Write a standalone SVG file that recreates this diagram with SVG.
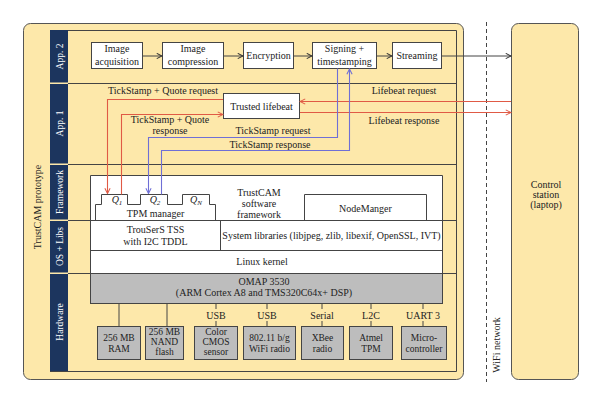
<svg xmlns="http://www.w3.org/2000/svg" width="600" height="401" viewBox="0 0 600 401">
<defs>
<style>
text{font-family:"Liberation Serif","Times New Roman",serif;font-size:10px;fill:#222;text-anchor:middle}
.sm{font-size:9.5px}
.lbl{fill:#fff;font-size:9.5px}
.box{fill:#fff;stroke:#444;stroke-width:1}
.gbox{fill:#bdbdbd;stroke:#444;stroke-width:1}
.ln{fill:none;stroke:#444;stroke-width:1}
.red{fill:none;stroke:#e05a45;stroke-width:1.1}
.blue{fill:none;stroke:#6f6fd6;stroke-width:1.1}
.navy{fill:#1c355e}
</style>
<marker id="ak" viewBox="0 0 8 8" refX="7" refY="4" markerWidth="7" markerHeight="7" orient="auto" markerUnits="userSpaceOnUse"><path d="M1,1 L7,4 L1,7" fill="none" stroke="#333" stroke-width="1.2"/></marker>
<marker id="ar" viewBox="0 0 8 8" refX="7" refY="4" markerWidth="7" markerHeight="7" orient="auto" markerUnits="userSpaceOnUse"><path d="M1,1 L7,4 L1,7" fill="none" stroke="#e05a45" stroke-width="1.2"/></marker>
<marker id="ab" viewBox="0 0 8 8" refX="7" refY="4" markerWidth="7" markerHeight="7" orient="auto" markerUnits="userSpaceOnUse"><path d="M1,1 L7,4 L1,7" fill="none" stroke="#6f6fd6" stroke-width="1.2"/></marker>
</defs>
<rect width="600" height="401" fill="#fff"/>
<!-- prototype container -->
<g id="prototype">
<rect x="23.5" y="23.5" width="440" height="356" rx="7" fill="#fde8aa" stroke="#555" stroke-width="1"/>
<text transform="translate(41,207) rotate(-90)" font-size="10.5">TrustCAM prototype</text>
<path class="ln" d="M50,30.5 H456.5 V371.5 H50"/>
</g>
<!-- layer bars -->
<g id="layers">
<rect class="navy" x="50" y="30" width="18" height="52.5"/>
<rect class="navy" x="50" y="84" width="18" height="79.5"/>
<rect class="navy" x="50" y="165" width="18" height="54.5"/>
<rect class="navy" x="50" y="221" width="18" height="51.5"/>
<rect class="navy" x="50" y="274" width="18" height="97"/>
<text class="lbl" transform="translate(62.5,56.5) rotate(-90)">App. 2</text>
<text class="lbl" transform="translate(62.5,123.5) rotate(-90)">App. 1</text>
<text class="lbl" transform="translate(62.5,192) rotate(-90)">Framework</text>
<text class="lbl" transform="translate(62.5,246.5) rotate(-90)">OS + Libs</text>
<text class="lbl" transform="translate(62.5,322) rotate(-90)">Hardware</text>
<path class="ln" d="M68,83.5 H456 M68,164.5 H456 M68,220.5 H456 M68,273.5 H456"/>
</g>
<!-- App 2 -->
<g id="img-acq"><rect class="box" x="91.5" y="42.5" width="51" height="26"/><text x="117" y="52">Image</text><text x="117" y="65">acquisition</text></g>
<g id="img-comp"><rect class="box" x="162.5" y="42.5" width="61" height="26"/><text x="193" y="52">Image</text><text x="193" y="65">compression</text></g>
<g id="encryption"><rect class="box" x="243.5" y="42.5" width="50" height="26"/><text x="268.5" y="59">Encryption</text></g>
<g id="signing"><rect class="box" x="312.5" y="42.5" width="64" height="26"/><text x="344.5" y="52">Signing +</text><text x="344.5" y="65">timestamping</text></g>
<g id="streaming"><rect class="box" x="392.5" y="42.5" width="49" height="26"/><text x="417" y="59">Streaming</text></g>
<!-- App 1 -->
<g id="lifebeat"><rect class="box" x="223.5" y="93.5" width="76" height="25"/><text x="261.5" y="109.5">Trusted lifebeat</text></g>
<!-- Framework -->
<g id="framework">
<path class="box" d="M90.5,220.5 V175.5 H442.5 V220.5"/>
<text x="259" y="196">TrustCAM</text>
<text x="259" y="207">software</text>
<text x="259" y="218">framework</text>
</g>
<g id="tpm-manager">
<path class="box" d="M95.5,220.5 V204.5 H101.5 V194.5 H127.5 V204.5 H140.5 V194.5 H167.5 V204.5 H182.5 V194.5 H209.5 V204.5 H215.5 V220.5"/>
<text x="117" y="203" font-style="italic">Q<tspan font-size="7" dy="2">1</tspan></text>
<text x="155" y="203" font-style="italic">Q<tspan font-size="7" dy="2">2</tspan></text>
<text x="196" y="203" font-style="italic">Q<tspan font-size="7" dy="2">N</tspan></text>
<text x="155.5" y="217">TPM manager</text>
</g>
<g id="nodemanager"><path class="box" d="M304.5,220.5 V194.5 H426.5 V220.5"/><text x="365.5" y="212">NodeManger</text></g>
<!-- OS + Libs -->
<g id="trousers"><rect class="box" x="90.5" y="220.5" width="130" height="30"/><text x="155.5" y="233">TrouSerS TSS</text><text x="155.5" y="245">with I2C TDDL</text></g>
<g id="syslibs"><rect class="box" x="220.5" y="220.5" width="222" height="30"/><text x="331.5" y="239">System libraries (libjpeg, zlib, libexif, OpenSSL, IVT)</text></g>
<g id="linux"><rect class="box" x="90.5" y="250.5" width="352" height="23"/><text x="262" y="265">Linux kernel</text></g>
<!-- Hardware -->
<g id="omap"><rect class="gbox" x="90.5" y="273.5" width="352" height="30"/><text x="264" y="285">OMAP 3530</text><text x="264" y="296">(ARM Cortex A8 and TMS320C64x+ DSP)</text></g>
<g id="ram"><rect class="gbox" x="97.5" y="326.5" width="43" height="33"/><text class="sm" x="119" y="341">256 MB</text><text class="sm" x="119" y="352">RAM</text></g>
<g id="nand"><rect class="gbox" x="145.5" y="326.5" width="38" height="33"/><text class="sm" x="164.5" y="335">256 MB</text><text class="sm" x="164.5" y="345">NAND</text><text class="sm" x="164.5" y="355">flash</text></g>
<g id="cmos"><rect class="gbox" x="194.5" y="326.5" width="43" height="33"/><text class="sm" x="216" y="335">Color</text><text class="sm" x="216" y="345">CMOS</text><text class="sm" x="216" y="355">sensor</text></g>
<g id="wifi"><rect class="gbox" x="243.5" y="326.5" width="52" height="33"/><text class="sm" x="269.5" y="341">802.11 b/g</text><text class="sm" x="269.5" y="352">WiFi radio</text></g>
<g id="xbee"><rect class="gbox" x="301.5" y="326.5" width="42" height="33"/><text class="sm" x="322.5" y="341">XBee</text><text class="sm" x="322.5" y="352">radio</text></g>
<g id="atmel"><rect class="gbox" x="349.5" y="326.5" width="43" height="33"/><text class="sm" x="371" y="341">Atmel</text><text class="sm" x="371" y="352">TPM</text></g>
<g id="micro"><rect class="gbox" x="401.5" y="326.5" width="45" height="33"/><text class="sm" x="424" y="341">Micro-</text><text class="sm" x="424" y="352">controller</text></g>
<!-- WiFi network & control station -->
<g id="wifi-network">
<line x1="486.5" y1="22" x2="486.5" y2="382" stroke="#444" stroke-width="1" stroke-dasharray="4,3"/>
<text transform="translate(500,345) rotate(-90)">WiFi network</text>
</g>
<g id="control-station">
<rect x="511.5" y="23.5" width="67" height="356" rx="7" fill="#fde8aa" stroke="#555" stroke-width="1"/>
<text x="546" y="188">Control</text>
<text x="546" y="198">station</text>
<text x="546" y="208">(laptop)</text>
</g>
<!-- connectors -->
<g id="connectors">
<path class="ln" marker-end="url(#ak)" d="M142.5,56 H162"/>
<path class="ln" marker-end="url(#ak)" d="M223.5,56 H243"/>
<path class="ln" marker-end="url(#ak)" d="M293.5,56 H312"/>
<path class="ln" marker-end="url(#ak)" d="M376.5,56 H392"/>
<path class="ln" marker-end="url(#ak)" d="M441.5,56 H511"/>
<path class="red" marker-end="url(#ar)" d="M511,101.5 H300"/>
<path class="red" marker-end="url(#ar)" d="M300,112.5 H511"/>
<path class="red" marker-end="url(#ar)" d="M223,99.5 H107.5 V193.5"/>
<path class="red" marker-end="url(#ar)" d="M121.5,194.5 V114.5 H223"/>
<path class="blue" marker-end="url(#ab)" d="M337.5,68.5 V137.5 H148.5 V193.5"/>
<path class="blue" marker-end="url(#ab)" d="M161.5,194.5 V150.5 H349.5 V69"/>
<path class="ln" d="M119,303.5 V326.5 M167,303.5 V326.5 M216,303.5 V309 M216,321 V326.5 M267,303.5 V309 M267,321 V326.5 M322,303.5 V309 M322,321 V326.5 M371,303.5 V309 M371,321 V326.5 M423,303.5 V309 M423,321 V326.5"/>
<text x="216" y="319">USB</text>
<text x="267" y="319">USB</text>
<text x="322" y="319">Serial</text>
<text x="371" y="319">L2C</text>
<text x="423" y="319">UART 3</text>
<text x="163" y="94">TickStamp + Quote request</text>
<text x="170" y="123">TickStamp + Quote</text>
<text x="170" y="134">response</text>
<text x="273" y="134">TickStamp request</text>
<text x="270" y="148">TickStamp response</text>
<text x="404" y="94">Lifebeat request</text>
<text x="404" y="124">Lifebeat response</text>
</g>
</svg>
